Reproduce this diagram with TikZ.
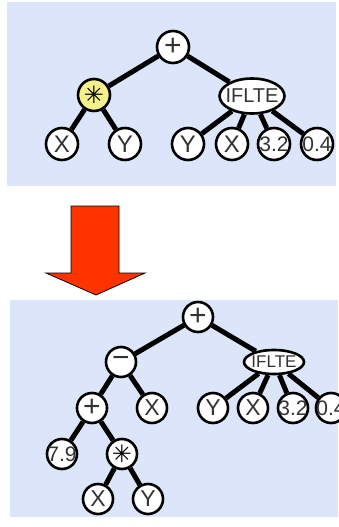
\documentclass[tikz,border=0pt]{standalone}
\usepackage{fontspec}
\setmainfont{Liberation Sans}
\newfontfamily\symfont{DejaVu Sans}
\usetikzlibrary{shapes.geometric}
\definecolor{panelbg}{HTML}{DCE5FA}
\definecolor{nodeyel}{HTML}{F6F08A}
\definecolor{arrowred}{HTML}{FF3300}
\definecolor{txt}{HTML}{333333}
\newcommand{\zb}[1]{\makebox[0pt]{#1}}
\tikzset{
  leaf/.style={circle,draw=black,line width=2.6pt,fill=white,minimum size=32pt,inner sep=0pt,font=\fontsize{24}{24}\selectfont,text=txt},
  sleaf/.style={leaf,minimum size=30pt,font=\fontsize{23}{23}\selectfont},
  num/.style={font=\fontsize{21}{21}\selectfont},
  opsym/.style={font=\fontsize{30}{30}\selectfont},
  star/.style={font=\symfont\fontsize{24}{24}\selectfont,text=black},
  ovl/.style={ellipse,draw=black,line width=2.6pt,fill=white,inner sep=0pt,text=txt},
  edge/.style={line width=5pt,draw=black},
}
\begin{document}
\begin{tikzpicture}[x=1pt,y=-1pt]
\useasboundingbox (0,0) rectangle (338,527);
\fill[panelbg] (7,2) rectangle (336,186);
\fill[panelbg] (10,300) rectangle (338,517);
% top tree
\node[leaf,opsym] (t1) at (173,47) {+};
\node[leaf,fill=nodeyel,star] (t2) at (94,95) {✳};
\node[ovl,minimum width=65pt,minimum height=35pt,font=\fontsize{20}{20}\selectfont] (t3) at (252,96) {\zb{IFLTE}};
\node[leaf] (t4) at (62,144) {X};
\node[leaf] (t5) at (125,144) {Y};
\node[leaf] (t6) at (188,144) {Y};
\node[leaf] (t7) at (232,144) {X};
\node[leaf,num] (t8) at (274,144) {\zb{3.2}};
\node[leaf,num] (t9) at (317,144) {\zb{0.4}};
\draw[edge] (t1) -- (t2);
\draw[edge] (t1) -- (t3);
\draw[edge] (t2) -- (t4);
\draw[edge] (t2) -- (t5);
\draw[edge] (t3) -- (t6);
\draw[edge] (t3) -- (t7);
\draw[edge] (t3) -- (t8);
\draw[edge] (t3) -- (t9);
% arrow
\fill[arrowred,draw=black,line width=0.8pt] (71,206) -- (119,206) -- (119,273) -- (145,273) -- (96,295) -- (46,273) -- (71,273) -- cycle;
% bottom tree
\node[sleaf,opsym] (b1) at (198,317) {+};
\node[sleaf,opsym] (b2) at (121,362) {−};
\node[ovl,minimum width=60pt,minimum height=24pt,font=\fontsize{17}{17}\selectfont] (b3) at (274,362) {\zb{IFLTE}};
\node[sleaf,opsym] (b4) at (92,408) {+};
\node[sleaf] (b5) at (152,408) {X};
\node[sleaf] (b6) at (213,408) {Y};
\node[sleaf] (b7) at (253,408) {X};
\node[sleaf,num] (b8) at (293,408) {\zb{3.2}};
\node[sleaf,num] (b9) at (331,408) {\zb{0.4}};
\node[sleaf,num] (b10) at (62,454) {\zb{7.9}};
\node[sleaf,star] (b11) at (122,454) {✳};
\node[sleaf] (b12) at (98,499) {X};
\node[sleaf] (b13) at (148,499) {Y};
\draw[edge] (b1) -- (b2);
\draw[edge] (b1) -- (b3);
\draw[edge] (b2) -- (b4);
\draw[edge] (b2) -- (b5);
\draw[edge] (b3) -- (b6);
\draw[edge] (b3) -- (b7);
\draw[edge] (b3) -- (b8);
\draw[edge] (b3) -- (b9);
\draw[edge] (b4) -- (b10);
\draw[edge] (b4) -- (b11);
\draw[edge] (b11) -- (b12);
\draw[edge] (b11) -- (b13);
\end{tikzpicture}
\end{document}
